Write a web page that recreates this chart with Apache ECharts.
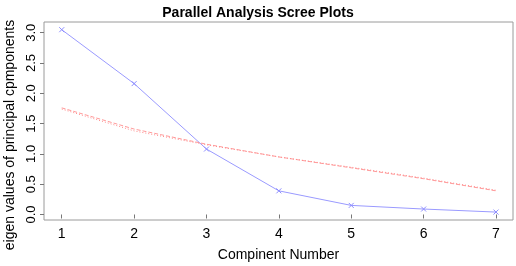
<!DOCTYPE html>
<html>
<head>
<meta charset="utf-8">
<script src="https://cdn.jsdelivr.net/npm/echarts@6/dist/echarts.min.js"></script>
<style>
  html, body { margin: 0; padding: 0; background: #fff; }
  #chart { width: 516px; height: 266px; }
</style>
</head>
<body>
<div id="chart"></div>
<script>
  const components = [1, 2, 3, 4, 5, 6, 7]
  const actualEigen = [3.05, 2.16, 1.08, 0.39, 0.15, 0.09, 0.04]
  const simulatedEigen = [1.76, 1.41, 1.16, 0.95, 0.77, 0.59, 0.39]
  const resampledEigen = [1.74, 1.38, 1.15, 0.95, 0.78, 0.6, 0.4]
  const xTicks = [1, 2, 3, 4, 5, 6, 7]
  const yTicks = [0, 0.5, 1, 1.5, 2, 2.5, 3]

  const font = 'Liberation Sans, Arial, sans-serif'
  const pairs = (ys) => components.map((x, i) => [x, ys[i]])

  const chart = echarts.init(document.getElementById('chart'))
  chart.setOption({
    animation: false,
    title: {
      text: 'Parallel Analysis Scree Plots',
      left: 'center',
      top: 1,
      textStyle: { fontFamily: font, fontSize: 14, fontWeight: 'bold', color: '#000' },
    },
    grid: {
      left: 44,
      right: 3,
      top: 22,
      bottom: 46,
      outerBoundsMode: 'none',
      containLabel: false,
      show: true,
      borderColor: '#9a9a9a',
      borderWidth: 1,
      backgroundColor: 'transparent',
    },
    xAxis: {
      type: 'value',
      min: 0.755,
      max: 7.235,
      name: 'Compinent Number',
      nameLocation: 'middle',
      nameGap: 28,
      nameTextStyle: { fontFamily: font, fontSize: 14, color: '#000' },
      axisLine: { show: false },
      splitLine: { show: false },
      axisTick: {
        show: true,
        length: 4,
        customValues: xTicks,
        lineStyle: { color: '#777' },
      },
      axisLabel: {
        customValues: xTicks,
        fontFamily: font,
        fontSize: 14,
        color: '#000',
        margin: 7,
      },
    },
    yAxis: {
      type: 'value',
      min: -0.091,
      max: 3.177,
      name: 'eigen values of principal cpmponents',
      nameLocation: 'middle',
      nameGap: 26,
      nameTextStyle: { fontFamily: font, fontSize: 14, color: '#000', padding: [0, 28, 0, 0] },
      axisLine: { show: false },
      splitLine: { show: false },
      axisTick: {
        show: true,
        length: 4,
        customValues: yTicks,
        lineStyle: { color: '#777' },
      },
      axisLabel: {
        customValues: yTicks,
        rotate: 90,
        fontFamily: font,
        fontSize: 13,
        color: '#000',
        margin: 6,
        formatter: (v) => v.toFixed(1),
      },
    },
    series: [
      {
        name: 'actual',
        type: 'line',
        data: pairs(actualEigen),
        symbol: 'path://M0,0L10,10M10,0L0,10',
        symbolSize: 5,
        itemStyle: { color: 'transparent', borderColor: '#8c8cff', borderWidth: 1 },
        lineStyle: { color: '#9a9aff', width: 1 },
      },
      {
        name: 'simulated',
        type: 'line',
        data: pairs(simulatedEigen),
        showSymbol: false,
        lineStyle: { color: '#ff9a9a', width: 1, type: [4, 2] },
      },
      {
        name: 'resampled',
        type: 'line',
        data: pairs(resampledEigen),
        showSymbol: false,
        lineStyle: { color: '#ff8a8a', width: 1, type: [1, 2] },
      },
    ],
  })
</script>
</body>
</html>
